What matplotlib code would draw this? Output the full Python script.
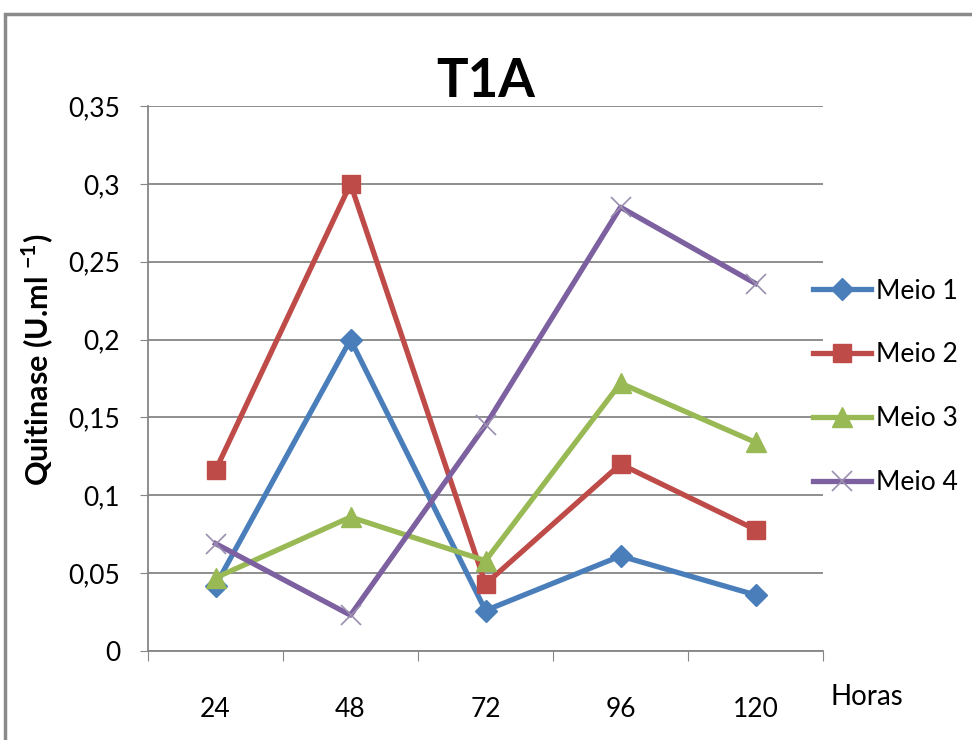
import matplotlib
matplotlib.use("Agg")
import matplotlib.pyplot as plt
from matplotlib.patches import Rectangle

plt.rcParams['font.family'] = ['Lato', 'DejaVu Sans']

horas = ["24", "48", "72", "96", "120"]
meio1 = [0.042, 0.200, 0.026, 0.061, 0.036]
meio2 = [0.116, 0.300, 0.043, 0.120, 0.078]
meio3 = [0.047, 0.086, 0.058, 0.172, 0.134]
meio4 = [0.069, 0.023, 0.145, 0.285, 0.236]
series_names = ["Meio 1", "Meio 2", "Meio 3", "Meio 4"]
y_ticks = [0, 0.05, 0.1, 0.15, 0.2, 0.25, 0.3, 0.35]
y_tick_labels = ["0", "0,05", "0,1", "0,15", "0,2", "0,25", "0,3", "0,35"]

fig = plt.figure(figsize=(9.72, 7.4), dpi=100)
ax = fig.add_axes([148 / 972, 1 - 651 / 740, 675 / 972, 545 / 740])

# outer chart border, as in the Excel export
fig.patches.append(Rectangle((5 / 972, -0.05), 1.2, 1 - 14 / 740 + 0.05,
                             transform=fig.transFigure, fill=False,
                             edgecolor="#8a8a8a", linewidth=2.5))

x = list(range(len(horas)))
styles = [
    dict(color="#4A7EBB", marker="D", markersize=11),
    dict(color="#BE4B48", marker="s", markersize=13),
    dict(color="#98B954", marker="^", markersize=14),
    dict(color="#7D60A0", marker="x", markersize=14, markeredgecolor="#9b8fb0",
         markeredgewidth=1.2),
]
for vals, name, st in zip([meio1, meio2, meio3, meio4], series_names, styles):
    ax.plot(x, vals, linewidth=3.8, label=name, zorder=3, **st)

ax.set_xlim(-0.5, 4.5)
ax.set_ylim(0, 0.35)
ax.set_yticks(y_ticks)
ax.set_yticklabels(y_tick_labels, fontsize=19)
ax.yaxis.grid(True, color="#868686", linewidth=1.3)
ax.set_axisbelow(True)

# ticks at category boundaries, labels at category centres
ax.set_xticks([i - 0.5 for i in range(len(horas) + 1)])
ax.set_xticklabels([])
ax.set_xticks(x, minor=True)
ax.set_xticklabels(horas, minor=True, fontsize=19)
ax.tick_params(axis="x", which="major", length=7, color="#868686", direction="out")
ax.tick_params(axis="x", which="minor", length=0, pad=33)
ax.tick_params(axis="y", length=6, color="#868686", pad=14)

for side in ["top", "right"]:
    ax.spines[side].set_visible(False)
for side in ["left", "bottom"]:
    ax.spines[side].set_color("#868686")
    ax.spines[side].set_linewidth(1.3)

ax.set_title("T1A", fontsize=38, fontweight="bold", pad=4)
fig.text(37 / 972, 1 - 360 / 740, "Quitinase (U.ml $^{\\mathregular{-1}}$)", fontsize=22,
         fontweight="bold", rotation=90, ha="center", va="center")
fig.text(830 / 972, 1 - 697 / 740, "Horas", fontsize=20, va="center", ha="left")

leg = ax.legend(loc="upper left", bbox_to_anchor=(654 / 675, 1 - (268 - 106) / 545),
                frameon=False, fontsize=19, handlelength=2.2, handletextpad=0.2,
                labelspacing=1.47, borderaxespad=0)

fig.savefig("out.png", dpi=100)
